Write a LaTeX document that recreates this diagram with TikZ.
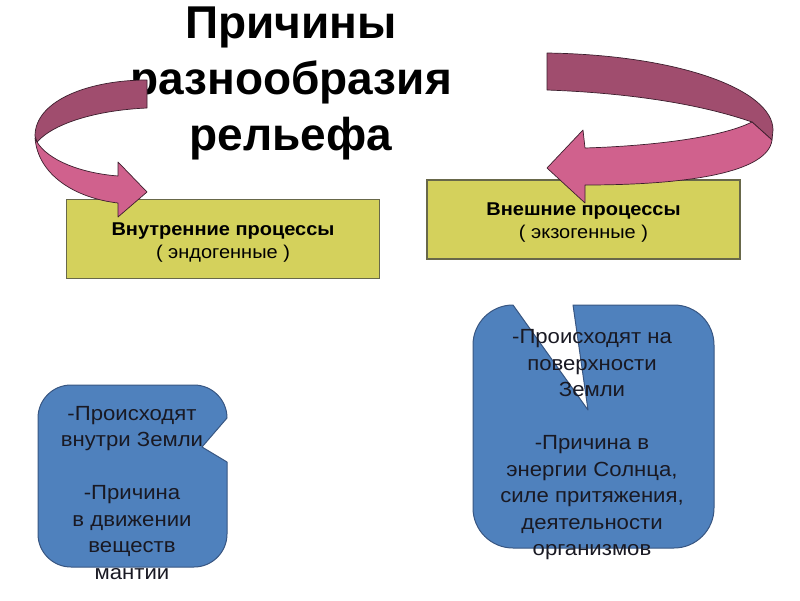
\documentclass[tikz,border=0pt]{standalone}
\usepackage{fontspec}
\setmainfont{Liberation Sans}
\newfontfamily\wideface[FakeStretch=1.08]{Liberation Sans}

\definecolor{boxfill}{RGB}{212,209,92}
\definecolor{boxline}{RGB}{104,104,74}
\definecolor{ribback}{RGB}{160,77,110}
\definecolor{ribfront}{RGB}{208,97,141}
\definecolor{ribline}{RGB}{60,30,45}
\definecolor{callfill}{RGB}{79,129,189}
\definecolor{callline}{RGB}{56,86,130}
\definecolor{calltext}{RGB}{25,25,35}

\begin{document}
\begin{tikzpicture}[x=1pt,y=-1pt,
  title/.style={font=\bfseries\fontsize{46}{56}\selectfont,align=center},
  procbox/.style={rectangle,draw=boxline,line width=1.5pt,fill=boxfill,inner sep=0pt,
                  minimum width=313pt,minimum height=79pt},
  proctxt/.style={align=center,font=\wideface\fontsize{18.5}{23}\selectfont},
  ribbonback/.style={fill=ribback,draw=ribline,line width=0.7pt,line join=round},
  ribbonfront/.style={fill=ribfront,draw=ribline,line width=0.7pt,line join=round},
  callout/.style={fill=callfill,draw=callline,line width=1pt,line join=round},
  calltxt/.style={align=center,text=calltext,font=\wideface\fontsize{20.5}{26.5}\selectfont}]

\fill[white] (0,0) rectangle (800,600);
\useasboundingbox (0,0) rectangle (800,600);

\node[title] (title) at (291,83) {Причины\\разнообразия\\рельефа};

\node[procbox] (inner) at (223,239) {};
\node[proctxt] (innertxt) at (223,243)
  {\textbf{Внутренние процессы}\\( эндогенные )};
\node[procbox] (outer) at (583.5,219.5) {};
\node[proctxt] (outertxt) at (583.5,223)
  {\textbf{Внешние процессы}\\( экзогенные )};

% left curved arrow
\draw[ribbonback] (147,80) .. controls (90,80) and (35,100) .. (35,136)
  -- (37,142) .. controls (55,122) and (100,110) .. (147,108) -- cycle;
\draw[ribbonfront] (35,138) .. controls (38,175) and (75,198) .. (118,203)
  -- (118,217) -- (147,192) -- (118,162) -- (118,176)
  .. controls (80,173) and (48,160) .. (37,142) -- cycle;

% right curved arrow
\draw[ribbonback] (547,53) .. controls (680,55) and (773,90) .. (773,130)
  -- (772,140) -- (752,122) .. controls (700,104) and (630,93) .. (547,90) -- cycle;
\draw[ribbonfront] (772,140) .. controls (768,172) and (690,185) .. (585,185)
  -- (585,203) -- (547,168) -- (583,130) -- (585,148)
  .. controls (650,146) and (720,138) .. (752,122) -- cycle;

% callouts
\draw[callout] (227,462) -- (227,534) arc[start angle=0,end angle=90,radius=33]
  -- (71,567) arc[start angle=90,end angle=180,radius=33]
  -- (38,418) arc[start angle=180,end angle=270,radius=33]
  -- (194,385) arc[start angle=270,end angle=360,radius=33]
  -- (202,447) -- cycle;
\node[calltxt] (intxt) at (132,493)
  {-Происходят\\внутри Земли\\[26.5pt]-Причина\\в движении\\веществ\\мантии};

\draw[callout] (573,305) -- (674,305) arc[start angle=270,end angle=360,radius=40]
  -- (714,508) arc[start angle=0,end angle=90,radius=40]
  -- (513,548) arc[start angle=90,end angle=180,radius=40]
  -- (473,345) arc[start angle=180,end angle=270,radius=40]
  -- (588,410) -- cycle;
\node[calltxt] (extxt) at (592,445)
  {-Происходят на\\поверхности\\Земли\\[26.5pt]-Причина в\\энергии Солнца,\\силе притяжения,\\деятельности\\организмов};

\end{tikzpicture}
\end{document}
